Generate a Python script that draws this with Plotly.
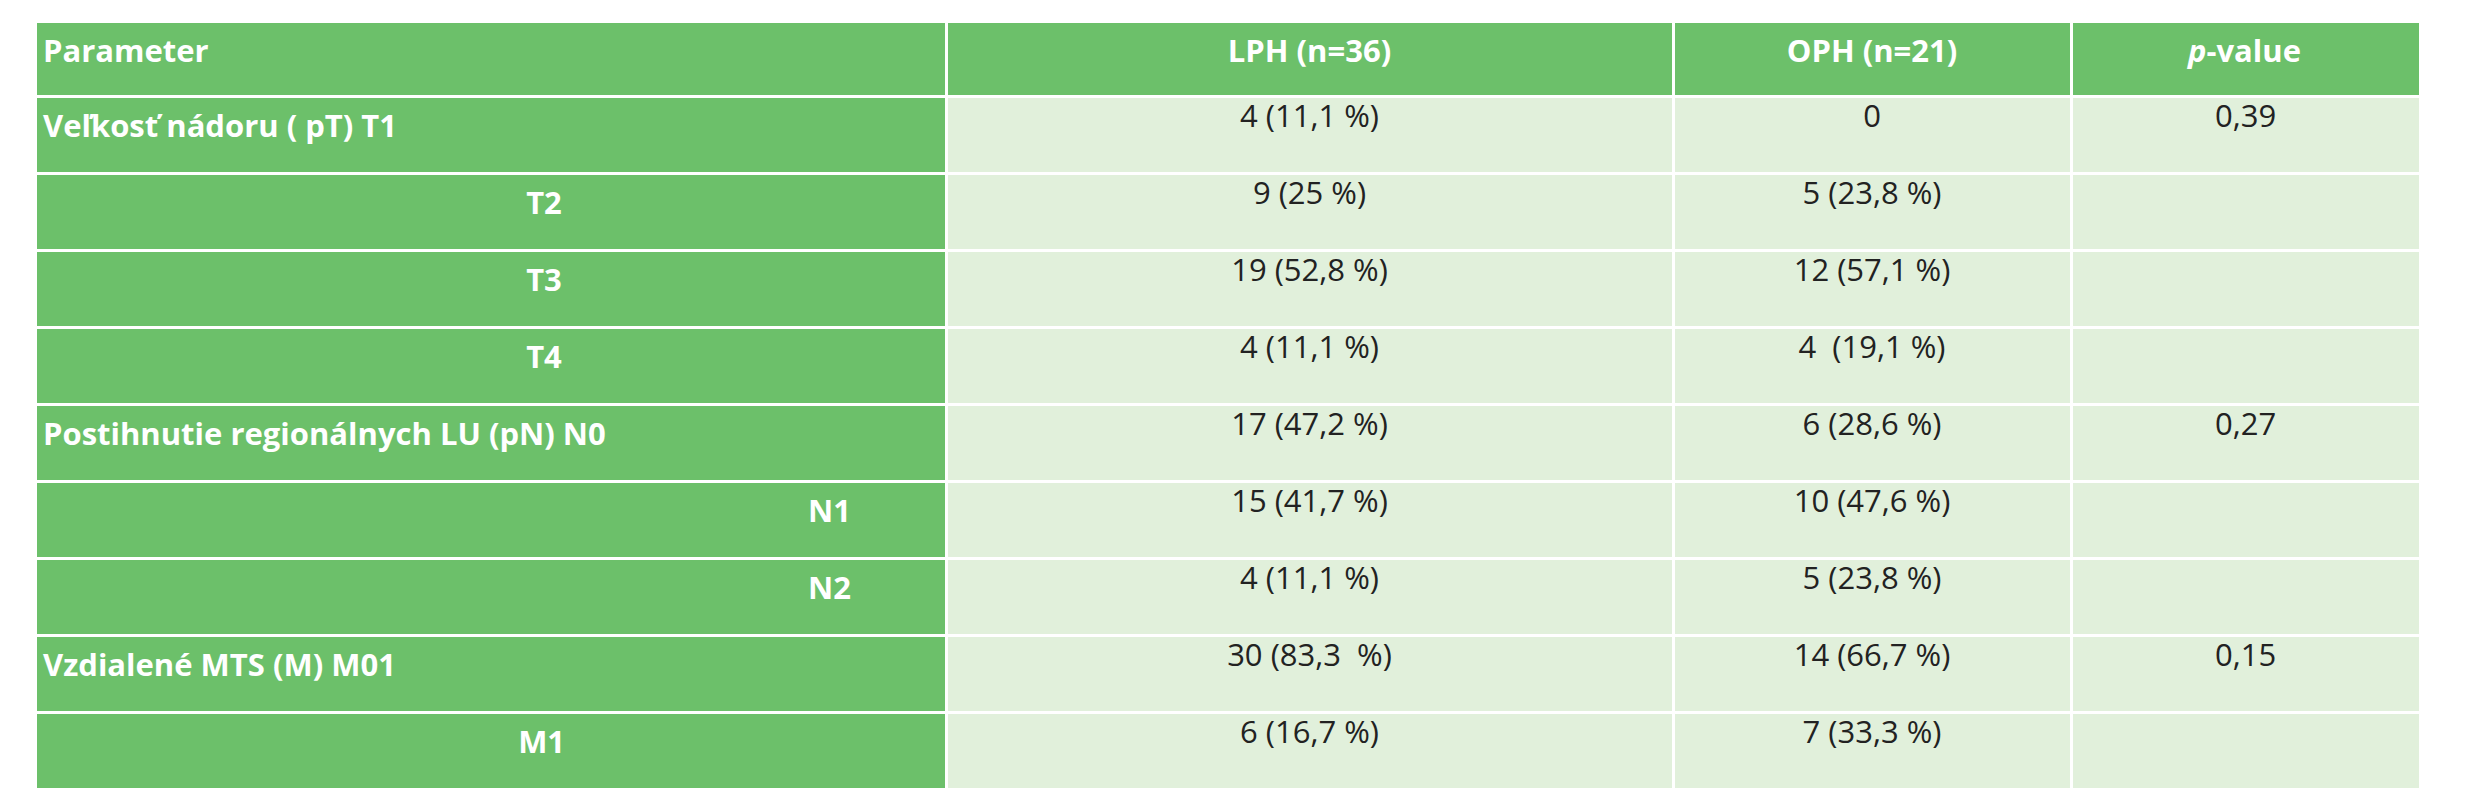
import plotly.graph_objects as go

headers = ["Parameter", "LPH (n=36)", "OPH (n=21)", "<i>p</i>-value"]
params = ["Veľkosť nádoru ( pT) T1", "T2", "T3", "T4",
          "Postihnutie regionálnych LU (pN) N0", "N1", "N2",
          "Vzdialené MTS (M) M01", "M1"]
# indent of each parameter label, in non-breaking spaces
param_indent = [0, 60, 60, 60, 0, 95, 95, 0, 59]
lph = ["4 (11,1 %)", "9 (25 %)", "19 (52,8 %)", "4 (11,1 %)",
       "17 (47,2 %)", "15 (41,7 %)", "4 (11,1 %)", "30 (83,3  %)", "6 (16,7 %)"]
oph = ["0", "5 (23,8 %)", "12 (57,1 %)", "4  (19,1 %)",
       "6 (28,6 %)", "10 (47,6 %)", "5 (23,8 %)", "14 (66,7 %)", "7 (33,3 %)"]
pval = ["0,39", "", "", "", "0,27", "", "", "0,15", ""]

GREEN = "#6cc06a"
LIGHT = "#e1f0db"
FONT = "Liberation Sans Narrow, Open Sans"

first_col = ["\u00a0" * k + "<b>" + p + "</b>" for p, k in zip(params, param_indent)]

n = len(params)
fig = go.Figure(go.Table(
    domain=dict(x=[27 / 2481, 2412 / 2481], y=[0, 1]),
    columnwidth=[911, 727, 398, 349],
    header=dict(
        values=["<b>" + h + "</b>" for h in headers],
        fill_color=GREEN,
        line=dict(color="white", width=3),
        align=["left", "center", "center", "center"],
        font=dict(family=FONT, size=31, color="white"),
        height=75,
    ),
    cells=dict(
        values=[first_col, lph, oph, pval],
        fill_color=[[GREEN] * n, [LIGHT] * n, [LIGHT] * n, [LIGHT] * n],
        line=dict(color="white", width=3),
        align=["left", "center", "center", "center"],
        font=dict(family=FONT, size=31,
                  color=[["white"] * n, ["#222222"] * n, ["#222222"] * n, ["#222222"] * n]),
        height=77,
    ),
))
fig.update_layout(width=2481, height=800, margin=dict(l=0, r=0, t=13, b=0),
                  paper_bgcolor="white")
fig.write_html("out.html")
